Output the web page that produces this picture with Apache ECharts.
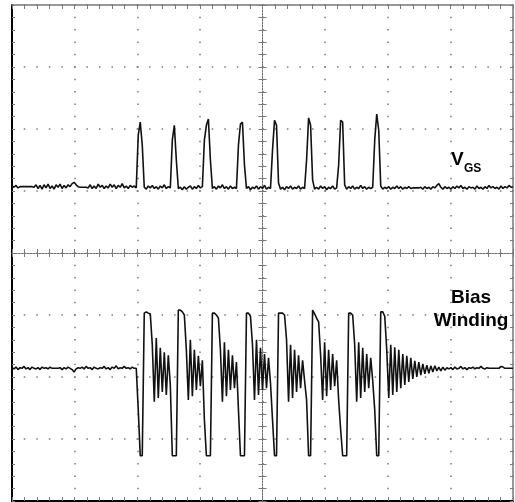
<!DOCTYPE html>
<html>
<head>
<meta charset="utf-8">
<script src="https://cdn.jsdelivr.net/npm/echarts@6/dist/echarts.min.js"></script>
<style>
  html, body { margin: 0; padding: 0; background: #fff; }
  #scope { width: 515px; height: 502px; }
</style>
</head>
<body>
<div id="scope"></div>
<script>
// Record of 251 samples, trigger in the middle of the screen.
// Trace values are in hundredths of a vertical division (100 = 1 div).
const TRIGGER_SAMPLE = 125;

// Gate-source voltage trace
const vgs = [
  108,106,109,105,107,107,107,107,107,107,
  107,106,110,104,109,103,110,105,111,104,
  108,103,110,106,111,104,109,105,110,107,
  112,114,110,107,106,106,106,106,105,110,
  104,108,104,111,106,109,104,108,105,111,
  106,110,104,109,106,112,105,108,104,109,
  106,108,105,190,211,174,106,103,108,105,
  109,104,107,103,108,105,110,104,107,105,
  182,206,150,104,106,102,107,103,106,108,
  103,107,104,109,105,107,182,206,216,150,
  104,107,103,108,105,110,104,107,103,108,
  104,106,104,174,208,211,142,104,107,102,
  106,104,108,103,107,104,109,103,106,104,
  166,214,206,113,103,106,102,107,104,108,
  103,106,104,108,103,106,104,150,218,206,
  118,103,106,103,108,104,107,102,106,104,
  108,103,105,142,214,211,110,103,107,104,
  108,103,106,104,109,104,107,103,106,104,
  106,182,224,198,108,103,106,104,107,103,
  106,104,108,104,107,103,106,104,107,104,
  105,105,105,105,106,103,107,104,106,103,
  107,105,109,112,106,103,107,104,106,103,
  107,104,108,105,109,104,106,103,107,105,
  106,103,108,104,106,103,107,104,109,105,
  107,104,106,103,108,104,107,105,109,106,
  107
];

// Bias winding voltage trace
const bias = [
  -185,-187,-184,-188,-185,-186,-183,-187,-185,-188,
  -184,-186,-187,-185,-188,-184,-186,-185,-187,-184,
  -186,-186,-186,-186,-185,-188,-185,-187,-184,-186,
  -188,-192,-187,-185,-186,-184,-187,-183,-186,-185,
  -188,-184,-186,-187,-185,-186,-183,-187,-185,-188,
  -184,-186,-182,-187,-185,-186,-183,-186,-185,-187,
  -184,-186,-186,-253,-327,-327,-97,-95,-97,-98,
  -148,-240,-137,-234,-153,-224,-160,-229,-165,-213,
  -327,-327,-327,-92,-92,-95,-100,-156,-237,-140,
  -231,-156,-221,-166,-215,-173,-269,-327,-327,-327,
  -97,-97,-100,-105,-156,-240,-144,-231,-156,-221,
  -165,-218,-176,-253,-327,-327,-327,-97,-97,-102,
  -148,-237,-140,-229,-153,-221,-163,-218,-169,-210,
  -269,-327,-327,-97,-97,-97,-100,-140,-240,-148,
  -234,-156,-224,-165,-218,-173,-206,-237,-327,-327,
  -92,-98,-105,-111,-165,-237,-144,-231,-156,-221,
  -163,-215,-173,-237,-285,-327,-327,-327,-97,-97,
  -100,-148,-240,-144,-234,-153,-224,-163,-218,-169,
  -206,-253,-327,-327,-95,-95,-102,-156,-234,-148,
  -229,-152,-224,-156,-218,-163,-213,-166,-208,-169,
  -203,-174,-200,-176,-197,-179,-195,-181,-194,-182,
  -192,-182,-190,-184,-190,-184,-189,-185,-187,-185,
  -188,-184,-187,-186,-183,-187,-185,-188,-185,-186,
  -184,-187,-185,-186,-183,-186,-187,-185,-186,-186,
  -186,-186,-186,-186,-183,-184,-186,-186,-186,-186,
  -186
];

// Trace labels
const labelVgsMain = 'V';
const labelVgsSub = 'GS';
const labelBias = ['Bias', 'Winding'];

// Screen: 8 x 8 divisions, 5 minor ticks per division
const X_MIN = -TRIGGER_SAMPLE, X_MAX = TRIGGER_SAMPLE, X_DIV = 31.25;
const Y_MIN = -400, Y_MAX = 400, Y_DIV = 100;

const DOT = '#7a7a7a';
const FONT = '"Liberation Sans", Arial, Helvetica, sans-serif';

const toPairs = arr => arr.map((v, i) => [i - TRIGGER_SAMPLE, v]);

function borderX(pos, color, width, withGrid) {
  return {
    type: 'value', min: X_MIN, max: X_MAX, interval: X_DIV, position: pos,
    axisLine: { show: true, onZero: false, lineStyle: { color, width } },
    axisTick: { show: true, inside: true, length: 4, lineStyle: { color: DOT, width: 1 } },
    minorTick: { show: true, splitNumber: 5, length: 4, lineStyle: { color: DOT, width: 1 } },
    axisLabel: { show: false },
    splitLine: { show: withGrid, lineStyle: { color: DOT, width: 1.5, type: [1.5, 10.9], dashOffset: 0.75 } },
    minorSplitLine: { show: false }
  };
}
function borderY(pos, color, width, withGrid) {
  return {
    type: 'value', min: Y_MIN, max: Y_MAX, interval: Y_DIV, position: pos,
    axisLine: { show: true, onZero: false, lineStyle: { color, width } },
    axisTick: { show: true, inside: true, length: 3, lineStyle: { color: DOT, width: 1 } },
    minorTick: { show: true, splitNumber: 5, length: 3, lineStyle: { color: DOT, width: 1 } },
    axisLabel: { show: false },
    splitLine: { show: withGrid, lineStyle: { color: DOT, width: 1.5, type: [1.5, 11.03], dashOffset: 0.75 } },
    minorSplitLine: { show: false }
  };
}
// Centre graticule lines: finely dotted, with ticks on both sides
function centreX(pos) {
  return {
    type: 'value', min: X_MIN, max: X_MAX, interval: X_DIV, position: pos,
    axisLine: { show: true, onZero: true, onZeroAxisIndex: 0, lineStyle: { color: '#6e6e6e', width: 1, type: [1.5, 1.5] } },
    axisTick: { show: true, inside: false, length: 4, lineStyle: { color: DOT, width: 1 } },
    minorTick: { show: true, splitNumber: 5, length: 4, lineStyle: { color: DOT, width: 1 } },
    axisLabel: { show: false }, splitLine: { show: false }
  };
}
function centreY(pos) {
  return {
    type: 'value', min: Y_MIN, max: Y_MAX, interval: Y_DIV, position: pos,
    axisLine: { show: true, onZero: true, onZeroAxisIndex: 0, lineStyle: { color: '#6e6e6e', width: 1, type: [1.5, 1.5] } },
    axisTick: { show: true, inside: false, length: 4, lineStyle: { color: DOT, width: 1 } },
    minorTick: { show: true, splitNumber: 5, length: 4, lineStyle: { color: DOT, width: 1 } },
    axisLabel: { show: false }, splitLine: { show: false }
  };
}

const chart = echarts.init(document.getElementById('scope'), null, { renderer: 'canvas' });
chart.setOption({
  animation: false,
  backgroundColor: '#fff',
  grid: { left: 12, top: 5, width: 501, height: 496, containLabel: false },
  xAxis: [
    borderX('bottom', '#000', 2, true),
    borderX('top', '#777', 1.5, false),
    centreX('bottom'),
    centreX('top')
  ],
  yAxis: [
    borderY('left', '#000', 2, true),
    borderY('right', '#777', 1.5, false),
    centreY('left'),
    centreY('right')
  ],
  series: [
    {
      name: 'VGS', type: 'line', xAxisIndex: 0, yAxisIndex: 0, z: 5,
      data: toPairs(vgs), showSymbol: false, symbol: 'none', smooth: false,
      lineStyle: { color: '#111', width: 1.6 }
    },
    {
      name: 'Bias Winding', type: 'line', xAxisIndex: 0, yAxisIndex: 0, z: 5,
      data: toPairs(bias), showSymbol: false, symbol: 'none', smooth: false,
      lineStyle: { color: '#111', width: 1.6 }
    }
  ],
  graphic: [
    { type: 'text', x: 451, y: 159.5, z: 10,
      style: { text: labelVgsMain, font: 'bold 19px ' + FONT, fill: '#000', textAlign: 'left', textVerticalAlign: 'middle' } },
    { type: 'text', x: 464, y: 169.0, z: 10,
      style: { text: labelVgsSub, font: 'bold 12px ' + FONT, fill: '#000', textAlign: 'left', textVerticalAlign: 'middle' } },
    { type: 'text', x: 471, y: 297.4, z: 10,
      style: { text: labelBias[0], font: 'bold 19px ' + FONT, fill: '#000', textAlign: 'center', textVerticalAlign: 'middle' } },
    { type: 'text', x: 471, y: 320.4, z: 10,
      style: { text: labelBias[1], font: 'bold 19px ' + FONT, fill: '#000', textAlign: 'center', textVerticalAlign: 'middle' } }
  ]
});
</script>
</body>
</html>
